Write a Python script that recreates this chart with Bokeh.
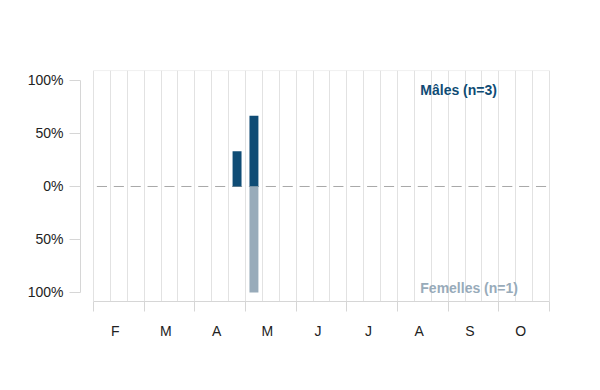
from bokeh.plotting import figure
from bokeh.models import FixedTicker, ColumnDataSource, Range1d
from bokeh.core.properties import value
from bokeh.embed import file_html
from bokeh.resources import INLINE

# ---- data ----
months = ["F", "M", "A", "M", "J", "J", "A", "S", "O"]
n_males = 3
n_females = 1
# percentage of individuals per décade (10-day period), Feb -> Oct (27 décades)
males_pct = [0, 0, 0, 0, 0, 0, 0, 0, 33.3, 66.7, 0, 0, 0, 0, 0, 0, 0, 0,
             0, 0, 0, 0, 0, 0, 0, 0, 0]
females_pct = [0, 0, 0, 0, 0, 0, 0, 0, 0, 100, 0, 0, 0, 0, 0, 0, 0, 0,
               0, 0, 0, 0, 0, 0, 0, 0, 0]
y_ticks = [-100, -50, 0, 50, 100]
y_tick_labels = ["100%", "50%", "0%", "50%", "100%"]

MALE_COLOR = "#0f4c75"
FEMALE_COLOR = "#98abba"
GRID_COLOR = "#e2e2e2"
AXIS_COLOR = "#d6d6d6"
FONT = "Liberation Sans"
LABEL_SHIFT = -0.07  # month labels sit slightly left of month centres

n_dec = len(males_pct)
dec_w = 1.0 / 3.0
dec_centers = [(i + 0.5) * dec_w for i in range(n_dec)]
month_bounds = list(range(len(months) + 1))
month_label_pos = [i + 0.5 + LABEL_SHIFT for i in range(len(months))]
dec_bounds = [i * dec_w for i in range(n_dec + 1)]

p = figure(width=600, height=390, output_backend="svg", toolbar_location=None,
           x_range=Range1d(-0.2566, 9.02), y_range=Range1d(-108.5, 109.43),
           min_border_left=80, min_border_right=50, min_border_top=70,
           min_border_bottom=89)
p.outline_line_color = None
p.background_fill_color = "white"
p.border_fill_color = "white"

# grid
p.ygrid.grid_line_color = None
p.xgrid.ticker = FixedTicker(ticks=dec_bounds)
p.xgrid.grid_line_color = GRID_COLOR
p.xgrid.grid_line_width = 1

# top border of the grid box
p.segment(x0=[month_bounds[0]], x1=[month_bounds[-1]], y0=[y_ticks[-1] + 9.4],
          y1=[y_ticks[-1] + 9.4], line_color=GRID_COLOR, line_width=1)

# dashed zero baseline, one dash per décade
p.segment(x0=[c - 0.3 * dec_w for c in dec_centers],
          x1=[c + 0.3 * dec_w for c in dec_centers],
          y0=[0] * n_dec, y1=[0] * n_dec, line_color="#a8a8a8", line_width=1)

# bars
src = ColumnDataSource(dict(x=dec_centers, m=males_pct,
                            f=[-v for v in females_pct]))
bw = 0.53 * dec_w
p.vbar(x="x", top="m", bottom=0, width=bw, source=src, fill_color=MALE_COLOR,
       line_color=None)
p.vbar(x="x", top=0, bottom="f", width=bw, source=src, fill_color=FEMALE_COLOR,
       line_color=None)

# group labels
p.text(x=[6.45], y=[90.6], text=[f"Mâles (n={n_males})"], text_align="left",
       text_baseline="middle", text_font=value(FONT), text_font_style="bold",
       text_font_size="14px", text_color=MALE_COLOR)
p.text(x=[6.45], y=[-95.3], text=[f"Femelles (n={n_females})"],
       text_align="left", text_baseline="middle", text_font=value(FONT),
       text_font_style="bold", text_font_size="14px", text_color=FEMALE_COLOR)

# x axis
xa = p.xaxis[0]
xa.ticker = FixedTicker(ticks=month_label_pos, minor_ticks=month_bounds)
xa.major_label_overrides = {c: m for c, m in zip(month_label_pos, months)}
xa.bounds = (month_bounds[0], month_bounds[-1])
xa.axis_line_color = AXIS_COLOR
xa.major_tick_line_color = None
xa.major_tick_out = 0
xa.major_tick_in = 0
xa.minor_tick_line_color = AXIS_COLOR
xa.minor_tick_out = 10
xa.minor_tick_in = 0
xa.major_label_standoff = 11
xa.major_label_text_font = FONT
xa.major_label_text_font_size = "14px"
xa.major_label_text_color = "#222222"

# y axis
ya = p.yaxis[0]
ya.ticker = FixedTicker(ticks=y_ticks)
ya.major_label_overrides = {t: l for t, l in zip(y_ticks, y_tick_labels)}
ya.bounds = (y_ticks[0], y_ticks[-1])
ya.axis_line_color = AXIS_COLOR
ya.major_tick_line_color = AXIS_COLOR
ya.major_tick_out = 11
ya.major_tick_in = 0
ya.minor_tick_line_color = None
ya.major_label_standoff = 6
ya.major_label_text_font = FONT
ya.major_label_text_font_size = "14px"
ya.major_label_text_color = "#222222"

open("out.html", "w").write(file_html(p, INLINE))
